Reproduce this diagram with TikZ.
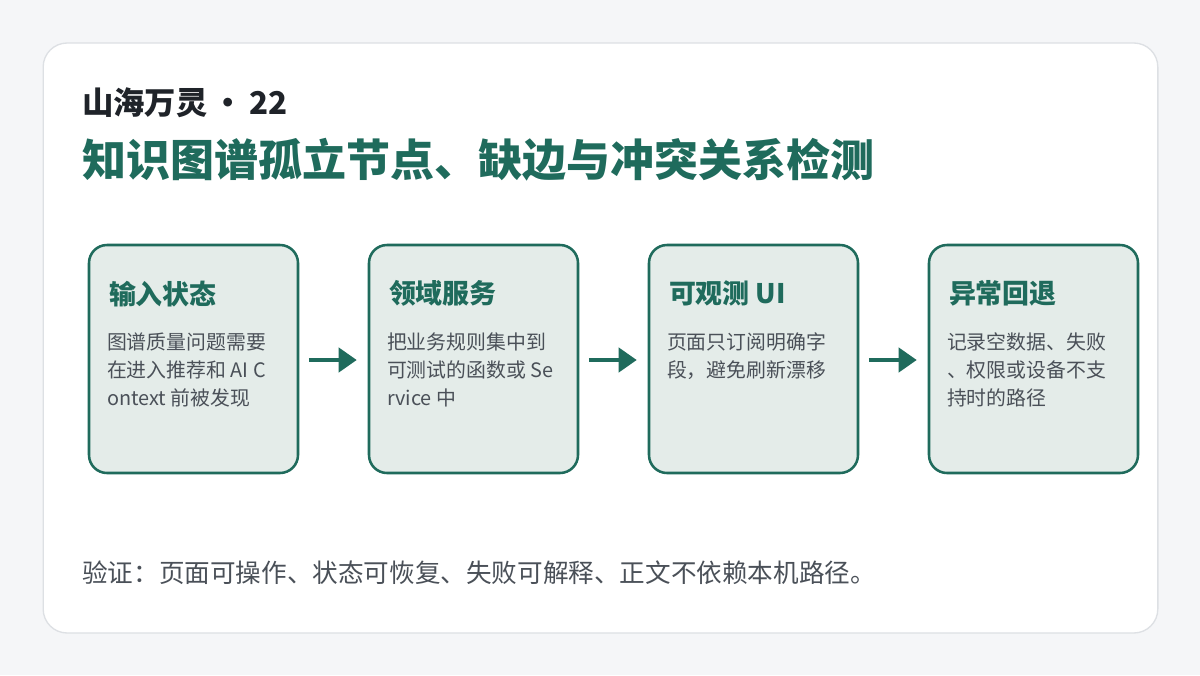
\documentclass[tikz,border=0pt]{standalone}
\usepackage{fontspec}
\usetikzlibrary{arrows.meta}
\setmainfont{Noto Sans CJK SC}
\definecolor{bg}{HTML}{F5F6F8}
\definecolor{cardline}{HTML}{DDE0E4}
\definecolor{grn}{HTML}{1F6B5C}
\definecolor{boxfill}{HTML}{E4ECE9}
\definecolor{ink}{HTML}{1F2329}
\definecolor{body}{HTML}{4A5058}
\begin{document}
\begin{tikzpicture}[x=0.75pt,y=-0.75pt,
 box/.style={draw=grn,line width=1.9pt,fill=boxfill,rounded corners=13.5pt,minimum width=156.75pt,minimum height=171pt,inner sep=0pt},
 head/.style={anchor=west,text=grn,font=\fontsize{20.2}{24}\selectfont\bfseries,inner sep=0pt},
 txt/.style={anchor=north west,text=body,font=\fontsize{14.9}{21}\selectfont,align=left,inner sep=0pt},
 arr/.style={draw=grn,line width=3pt,-{Triangle[length=13.5pt,width=18pt]}}]
\useasboundingbox (0,0) rectangle (1200,675);
\fill[bg] (0,0) rectangle (1200,675);
\node[draw=cardline,line width=1pt,fill=white,rounded corners=18pt,minimum width=836pt,minimum height=442.5pt,inner sep=0pt] (card) at (600.5,338) {};
\node[anchor=west,text=ink,font=\fontsize{23.5}{28}\selectfont\bfseries,inner sep=0pt] (t1) at (82,103) {山海万灵\,•\,22};
\node[anchor=west,text=grn,font=\fontsize{33}{40}\selectfont\bfseries,inner sep=0pt] (t2) at (82,160) {知识图谱孤立节点、缺边与冲突关系检测};
\foreach \i/\x/\h/\b in {
 1/193.5/输入状态/{图谱质量问题需要\\在进入推荐和 AI C\\ontext 前被发现},
 2/473.5/领域服务/{把业务规则集中到\\可测试的函数或 Se\\rvice 中},
 3/753.5/可观测 UI/{页面只订阅明确字\\段，避免刷新漂移},
 4/1033.5/异常回退/{记录空数据、失败\\、权限或设备不支\\持时的路径}}{
 \node[box] (b\i) at (\x,359) {};
 \node[head] (h\i) at ([xshift=21*0.75pt,yshift=-50*0.75pt]b\i.north west) {\h};
 \node[txt] (c\i) at ([xshift=19*0.75pt,yshift=-89*0.75pt]b\i.north west) {\b};
}
\foreach \a/\b in {1/2,2/3,3/4}{
 \draw[arr] ([xshift=9.5*0.75pt,yshift=-1*0.75pt]b\a.east) -- ([xshift=-11*0.75pt,yshift=-1*0.75pt]b\b.west);
}
\node[anchor=west,text=body,font=\fontsize{19.2}{23}\selectfont,inner sep=0pt] (foot) at (82,573) {验证：页面可操作、状态可恢复、失败可解释、正文不依赖本机路径。};
\end{tikzpicture}
\end{document}
